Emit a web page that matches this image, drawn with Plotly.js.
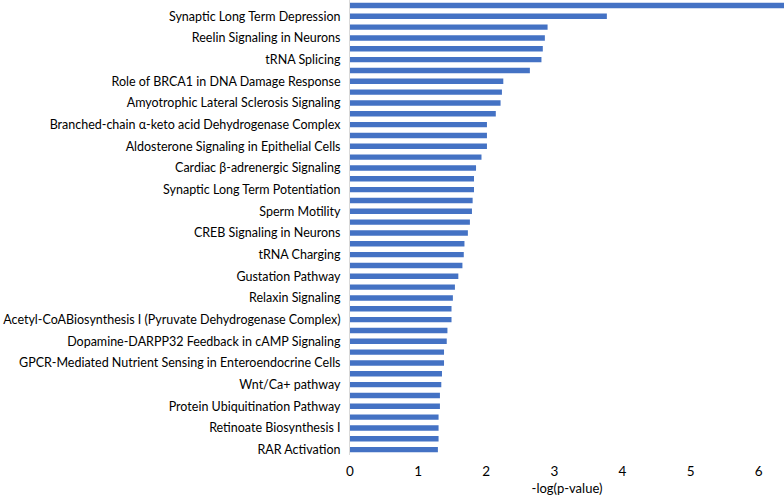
<!DOCTYPE html>
<html>
<head>
<meta charset="utf-8">
<script src="https://cdn.plot.ly/plotly-3.0.1.min.js"></script>
<style>html,body{margin:0;padding:0;background:#fff;}#chart{width:784px;height:496px;}</style>
</head>
<body>
<div id="chart"></div>
<script>
// Pathway labels (top to bottom); empty string = bar without a visible label
const pathways = [
  "", "Synaptic Long Term Depression",
  "", "Reelin Signaling in Neurons",
  "", "tRNA Splicing",
  "", "Role of BRCA1 in DNA Damage Response",
  "", "Amyotrophic Lateral Sclerosis Signaling",
  "", "Branched-chain α-keto acid Dehydrogenase Complex",
  "", "Aldosterone Signaling in Epithelial Cells",
  "", "Cardiac β-adrenergic Signaling",
  "", "Synaptic Long Term Potentiation",
  "", "Sperm Motility",
  "", "CREB Signaling in Neurons",
  "", "tRNA Charging",
  "", "Gustation Pathway",
  "", "Relaxin Signaling",
  "", "Acetyl-CoABiosynthesis I (Pyruvate Dehydrogenase Complex)",
  "", "Dopamine-DARPP32 Feedback in cAMP Signaling",
  "", "GPCR-Mediated Nutrient Sensing in Enteroendocrine Cells",
  "", "Wnt/Ca+ pathway",
  "", "Protein Ubiquitination Pathway",
  "", "Retinoate Biosynthesis I",
  "", "RAR Activation"
];
// -log(p-value), same order
const negLogP = [
  6.45, 3.77, 2.90, 2.86, 2.83, 2.81, 2.64, 2.25, 2.23, 2.21,
  2.14, 2.01, 2.01, 2.01, 1.93, 1.85, 1.82, 1.82, 1.80, 1.79,
  1.76, 1.73, 1.68, 1.67, 1.65, 1.59, 1.54, 1.51, 1.49, 1.49,
  1.43, 1.42, 1.38, 1.38, 1.35, 1.34, 1.32, 1.32, 1.30, 1.30,
  1.30, 1.29
];
const xTicks = [0, 1, 2, 3, 4, 5, 6];
const xTitle = "-log(p-value)";

const idx = pathways.map((_, i) => i);
const tickvals = idx.filter(i => pathways[i] !== "");
const ticktext = tickvals.map(i => pathways[i]);

const trace = {
  type: "bar",
  orientation: "h",
  x: negLogP,
  y: idx,
  width: 0.5,
  marker: {color: "#4472C4"},
  hoverinfo: "x"
};

const layout = {
  width: 784, height: 496,
  margin: {l: 350, r: 0, t: 0, b: 41, pad: 0},
  paper_bgcolor: "#ffffff",
  plot_bgcolor: "#ffffff",
  showlegend: false,
  font: {family: "Lato, 'Open Sans', sans-serif", size: 12.5, color: "#000000"},
  xaxis: {
    range: [0, 6.37],
    tickvals: xTicks,
    showgrid: false,
    zeroline: false,
    showline: false,
    ticks: "outside",
    ticklen: 4,
    tickcolor: "rgba(0,0,0,0)",
    tickfont: {size: 13.5},
    title: {text: xTitle, font: {size: 13}, standoff: 8}
  },
  yaxis: {
    range: [41.5, -0.5],
    tickvals: tickvals,
    ticktext: ticktext,
    showgrid: false,
    zeroline: false,
    showline: true,
    linecolor: "#d9d9d9",
    linewidth: 1,
    ticks: "outside",
    ticklen: 6,
    tickcolor: "rgba(0,0,0,0)",
    tickfont: {size: 12.5}
  }
};

Plotly.newPlot("chart", [trace], layout, {displayModeBar: false, staticPlot: true});
</script>
</body>
</html>
